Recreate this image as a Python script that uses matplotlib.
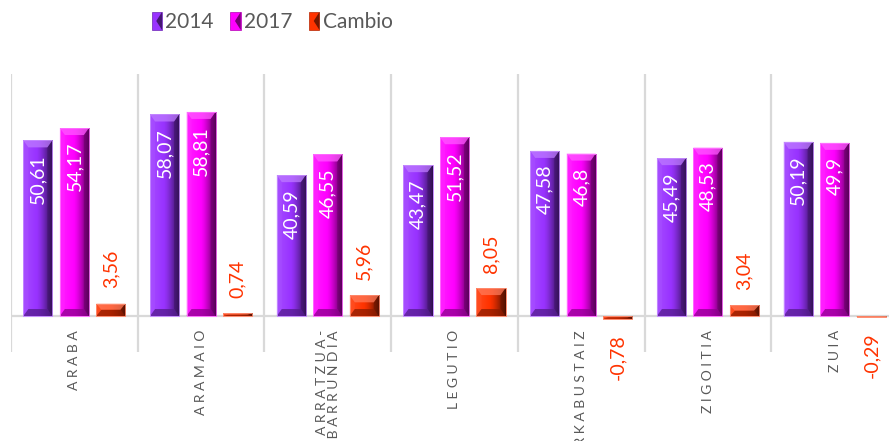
import numpy as np
import matplotlib
matplotlib.use("Agg")
import matplotlib.pyplot as plt
from matplotlib.patches import Polygon, Rectangle
from matplotlib.colors import to_rgb
from matplotlib.legend_handler import HandlerPatch

# ---------------- data ----------------
categories = ["ARABA", "ARAMAIO", "ARRATZUA-\nUBARRUNDIA", "LEGUTIO",
              "URKABUSTAIZ", "ZIGOITIA", "ZUIA"]
v2014 = [50.61, 58.07, 40.59, 43.47, 47.58, 45.49, 50.19]
v2017 = [54.17, 58.81, 46.55, 51.52, 46.8, 48.53, 49.9]
cambio = [3.56, 0.74, 5.96, 8.05, -0.78, 3.04, -0.29]
series_names = ["2014", "2017", "Cambio"]
series_values = [v2014, v2017, cambio]
colors = ["#9933FF", "#FF00FF", "#FF3300"]

FONT = ["Lato", "DejaVu Sans"]
plt.rcParams["font.family"] = FONT
LBL_W = 400

W, H = 889, 441
fig = plt.figure(figsize=(W / 100, H / 100), dpi=100)
ax_l, ax_r, ax_t, ax_b = 11, 898, 74, 352
ax = fig.add_axes([ax_l / W, 1 - ax_b / H, (ax_r - ax_l) / W, (ax_b - ax_t) / H])
y0px = 316
ppy = 3.47
ymax = (y0px - ax_t) / ppy
ymin = -(ax_b - y0px) / ppy
n = len(categories)
ppx = (ax_r - ax_l) / n
ax.axis("off")


def lighten(c, f):
    c = np.array(to_rgb(c))
    return tuple(c + (1 - c) * f)


def darken(c, f):
    c = np.array(to_rgb(c))
    return tuple(c * (1 - f))


# separators and zero line
grid_c = "#D9D9D9"
for k in range(n + 1):
    ax.axvline(k - 0.5, color=grid_c, lw=1.6, zorder=0)
ax.axhline(0, color=grid_c, lw=1.6, zorder=0)

x = np.arange(n)
offsets = [-0.288, 0.0, 0.288]
width = 0.229
bx_px, by_px = 5.0, 7.0

for si, (name, vals, col) in enumerate(zip(series_names, series_values, colors)):
    bars = ax.bar(x + offsets[si], vals, width, color=col,
                  edgecolor=lighten(col, 0.5), linewidth=0.6, zorder=2)
    base = np.array(to_rgb(col))
    N = 64
    t = np.linspace(0, 1, N)
    grad = np.zeros((1, N, 3))
    left = np.array(lighten(col, 0.12))
    right = np.array(darken(col, 0.75))
    for i, tt in enumerate(t):
        if tt < 0.45:
            grad[0, i] = left + (base - left) * (tt / 0.45)
        else:
            s = ((tt - 0.45) / 0.55) ** 1.4
            grad[0, i] = base + (right - base) * s
    for rect, v in zip(bars, vals):
        x0 = rect.get_x()
        x1 = x0 + rect.get_width()
        h = rect.get_height()
        ylo, yhi = min(0, h), max(0, h)
        im = ax.imshow(grad, extent=[x0, x1, ylo, yhi], aspect="auto",
                       zorder=2.1, interpolation="bilinear")
        im.set_clip_path(rect)
        hh = yhi - ylo
        by = min(by_px / ppy, hh / 2)
        bx = bx_px / ppx
        top = Polygon([(x0, yhi), (x1, yhi), (x1 - bx, yhi - by), (x0 + bx, yhi - by)],
                      closed=True, facecolor=lighten(col, 0.35), alpha=0.75,
                      edgecolor="none", zorder=2.3)
        bot = Polygon([(x0, ylo), (x1, ylo), (x1 - bx, ylo + by), (x0 + bx, ylo + by)],
                      closed=True, facecolor=darken(col, 0.45), alpha=0.75,
                      edgecolor="none", zorder=2.3)
        lft = Polygon([(x0, ylo), (x0 + bx, ylo + by), (x0 + bx, yhi - by), (x0, yhi)],
                      closed=True, facecolor=lighten(col, 0.15), alpha=0.45,
                      edgecolor="none", zorder=2.25)
        rgt = Polygon([(x1, ylo), (x1 - bx, ylo + by), (x1 - bx, yhi - by), (x1, yhi)],
                      closed=True, facecolor=darken(col, 0.6), alpha=0.55,
                      edgecolor="none", zorder=2.25)
        for p in (top, bot, lft, rgt):
            ax.add_patch(p)
        ax.add_patch(Rectangle((x0, ylo), x1 - x0, hh, fill=False,
                               edgecolor=lighten(col, 0.45), lw=0.6, zorder=2.4))

        label = f"{v:g}".replace(".", ",")
        xc = x0 + (x1 - x0) / 2
        if si < 2:
            ax.annotate(label, (xc, h), xytext=(0, -10), textcoords="offset points",
                        rotation=90, ha="center", va="top", color="white",
                        fontsize=14, fontweight=LBL_W, zorder=5)
        else:
            if v >= 0:
                ax.annotate(label, (xc, h), xytext=(0, 11), textcoords="offset points",
                            rotation=90, ha="center", va="bottom", color="#FF3300",
                            fontsize=14, fontweight=LBL_W, zorder=5)
            else:
                ax.annotate(label, (xc, h), xytext=(0, -11), textcoords="offset points",
                            rotation=90, ha="center", va="top", color="#FF3300",
                            fontsize=14, fontweight=LBL_W, zorder=5)

ax.set_xlim(-0.5, n - 0.5)
ax.set_ylim(ymin, ymax)

# category labels
for i, c in enumerate(categories):
    txt = "\n".join(" ".join(list(line)) for line in c.split("\n"))
    ax.text(i, -(330 - y0px) / ppy, txt, rotation=90, ha="center", va="top",
            fontsize=10, color="#595959", multialignment="right",
            linespacing=1.0, fontweight=LBL_W, clip_on=False)


# legend
class BevelHandler(HandlerPatch):
    def create_artists(self, legend, orig_handle, xdescent, ydescent, width, height, fontsize, trans):
        col = orig_handle.get_facecolor()
        r = Rectangle((-xdescent, -ydescent), width, height, facecolor=col,
                      edgecolor=darken(col[:3], 0.3), lw=0.5, transform=trans)
        tri = Polygon([(-xdescent + width, -ydescent), (-xdescent + width, -ydescent + height),
                       (-xdescent + width * 0.45, -ydescent + height * 0.5)],
                      closed=True, facecolor=darken(col[:3], 0.55), edgecolor="none",
                      transform=trans)
        return [r, tri]


handles = [Rectangle((0, 0), 1, 1, facecolor=c) for c in colors]
fig.legend(handles, series_names, loc="upper center", bbox_to_anchor=(272 / W, 1 - 12 / H),
           ncol=3, frameon=False, handlelength=0.5, handleheight=0.95,
           handletextpad=0.15, columnspacing=0.8, labelcolor="#595959",
           borderaxespad=0, borderpad=0,
           prop={"family": FONT, "size": 15},
           handler_map={Rectangle: BevelHandler()})

fig.savefig("out.png", dpi=100)
